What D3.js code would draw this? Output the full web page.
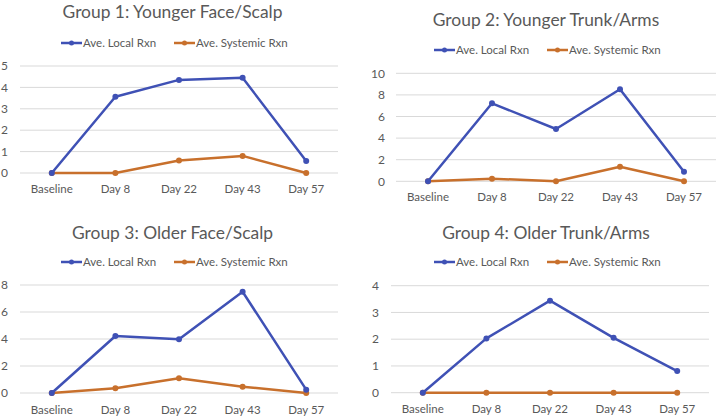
<!DOCTYPE html>
<html><head><meta charset="utf-8">
<script src="https://cdn.jsdelivr.net/npm/d3@7/dist/d3.min.js"></script>
<style>
html,body{margin:0;padding:0;background:#fff;}
svg{display:block;font-family:Lato,"Open Sans",sans-serif;}
</style></head>
<body><svg id="c" width="719" height="418"></svg>
<script>
const categories = ["Baseline","Day 8","Day 22","Day 43","Day 57"];
const seriesNames = ["Ave. Local Rxn","Ave. Systemic Rxn"];
const titles = ["Group 1: Younger Face/Scalp","Group 2: Younger Trunk/Arms","Group 3: Older Face/Scalp","Group 4: Older Trunk/Arms"];
const g1Local = [0,3.56,4.35,4.45,0.56];
const g1Systemic = [0,0,0.58,0.8,0];
const g2Local = [0,7.22,4.84,8.52,0.89];
const g2Systemic = [0,0.24,0,1.35,0];
const g3Local = [0,4.22,3.98,7.5,0.25];
const g3Systemic = [0,0.35,1.09,0.47,0];
const g4Local = [0,2.03,3.44,2.05,0.81];
const g4Systemic = [0,0,0,0,0];
const yMax = [5,10,8,4];
const yStep = [1,2,2,1];

const colors = ["#3f51b5","#c8702c"];
const textCol = "#595959";
const gridCol = "#d9d9d9";

// layout per panel (title y is baseline)
const panels = [
  {data:[g1Local,g1Systemic], titleX:172.5, titleY:17.5, legY:43, leg:[61,174], x0:20, x1:338, yTop:66, yBot:173, yLabX:8, xLabY:189},
  {data:[g2Local,g2Systemic], titleX:546, titleY:26, legY:50, leg:[434,547], x0:396, x1:716, yTop:73.3, yBot:181.3, yLabX:385, xLabY:197},
  {data:[g3Local,g3Systemic], titleX:172.5, titleY:238.5, legY:262, leg:[61,174], x0:20, x1:338, yTop:285, yBot:393, yLabX:8, xLabY:409.5},
  {data:[g4Local,g4Systemic], titleX:546, titleY:238.5, legY:262, leg:[434,547], x0:391, x1:709, yTop:285.7, yBot:392.7, yLabX:379, xLabY:409},
];

const svg = d3.select("#c");
panels.forEach((p,i)=>{
  const g = svg.append("g");
  const x = d3.scalePoint().domain(categories).range([p.x0,p.x1]).padding(0.5);
  const y = d3.scaleLinear().domain([0,yMax[i]]).range([p.yBot,p.yTop]);
  const ticks = d3.range(0,yMax[i]+0.001,yStep[i]);
  g.selectAll("line.grid").data(ticks).join("line")
    .attr("x1",p.x0).attr("x2",p.x1)
    .attr("y1",d=>y(d)).attr("y2",d=>y(d))
    .attr("stroke",gridCol).attr("stroke-width",1);
  g.selectAll("text.yl").data(ticks).join("text")
    .attr("x",p.yLabX).attr("y",d=>y(d)).attr("dy","0.35em")
    .attr("text-anchor","end").attr("fill",textCol).attr("font-size",12)
    .text(d=>d);
  g.selectAll("text.xl").data(categories).join("text")
    .attr("x",d=>x(d)).attr("y",p.xLabY).attr("dy","0.35em")
    .attr("text-anchor","middle").attr("fill",textCol).attr("font-size",11.5)
    .text(d=>d);
  g.append("text").attr("x",p.titleX).attr("y",p.titleY)
    .attr("text-anchor","middle").attr("fill",textCol).attr("font-size",17.4)
    .text(titles[i]);
  seriesNames.forEach((s,k)=>{
    const lx = p.leg[k];
    g.append("line").attr("x1",lx).attr("x2",lx+21).attr("y1",p.legY).attr("y2",p.legY)
      .attr("stroke",colors[k]).attr("stroke-width",2.5);
    g.append("circle").attr("cx",lx+10.5).attr("cy",p.legY).attr("r",2.5).attr("fill",colors[k]);
    g.append("text").attr("x",lx+22).attr("y",p.legY).attr("dy","0.35em")
      .attr("fill",textCol).attr("font-size",11.5).text(s);
  });
  [1,0].forEach(k=>{
    const vals = p.data[k];
    const line = d3.line().x((d,j)=>x(categories[j])).y(d=>y(d));
    g.append("path").datum(vals).attr("d",line).attr("fill","none")
      .attr("stroke",colors[k]).attr("stroke-width",2.5).attr("stroke-linejoin","round");
    g.selectAll("circle.pt"+k).data(vals).join("circle")
      .attr("cx",(d,j)=>x(categories[j])).attr("cy",d=>y(d)).attr("r",3).attr("fill",colors[k]);
  });
});
</script></body></html>
